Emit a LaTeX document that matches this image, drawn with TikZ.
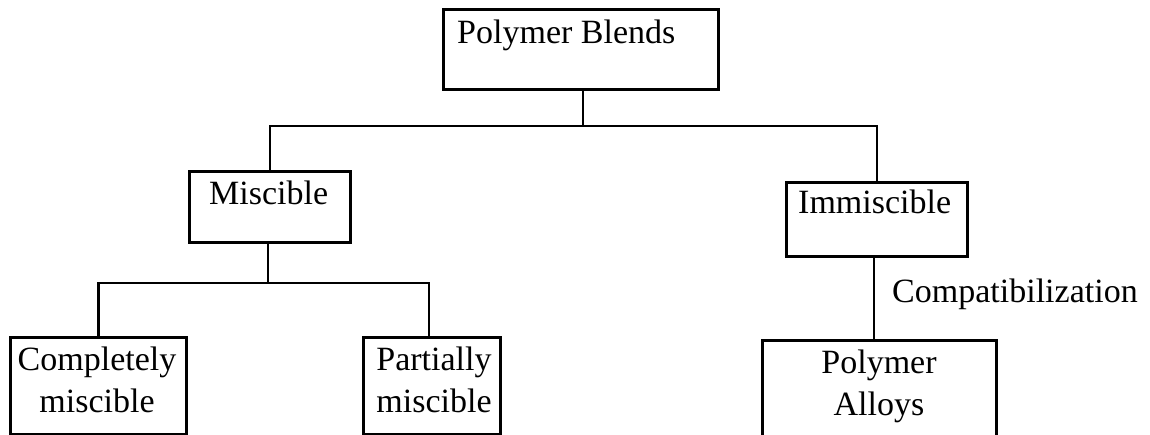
\documentclass[tikz,border=0pt]{standalone}
\usepackage{fontspec}
\setmainfont{Liberation Serif}
\begin{document}
\begin{tikzpicture}[x=1pt,y=-1pt,
  box/.style={draw,line width=2.7pt,inner sep=0pt,anchor=north west},
  txt/.style={inner sep=0pt,font=\fontsize{34}{42}\selectfont},
  conn/.style={line width=2.7pt}]
\useasboundingbox (0,0) rectangle (1150,434);
\clip (0,0) rectangle (1150,434);
% boxes
\node[box,minimum width=275pt,minimum height=80pt] (pb) at (442,8) {};
\node[box,minimum width=161pt,minimum height=71pt] (mis) at (188,170) {};
\node[box,minimum width=181pt,minimum height=74pt] (imm) at (785,181) {};
\node[box,minimum width=176pt,minimum height=97pt] (cm) at (9,336) {};
\node[box,minimum width=137pt,minimum height=97pt] (pm) at (362,336) {};
\node[box,minimum width=234pt,minimum height=110pt] (pa) at (761,339) {};
% texts
\node[txt,anchor=base west] (tpb) at (457,43) {Polymer Blends};
\node[txt,anchor=base west] (tmis) at (209,204) {Miscible};
\node[txt,anchor=base west] (timm) at (798,213) {Immiscible};
\node[txt,anchor=base,align=center] (tcm) at (97,412) {Completely\\miscible};
\node[txt,anchor=base,align=center] (tpm) at (434,412) {Partially\\miscible};
\node[txt,anchor=base,align=center] (tpa) at (879,415) {Polymer\\Alloys};
\node[txt,anchor=base west] (tcomp) at (892,302) {Compatibilization};
% junctions
\coordinate (j1) at (583,126);
\coordinate (j2) at (268,283);
% connectors
\draw[conn] (pb.south -| j1) -- (j1);
\draw[conn] (mis.north) |- (j1) -| (imm.north);
\draw[conn] (mis.south -| j2) -- (j2);
\draw[conn] (cm.north) |- (j2) -| ([xshift=-3pt]pm.north);
\draw[conn] ([xshift=-3pt]imm.south) -- ([xshift=-3pt]imm.south |- pa.north);
\end{tikzpicture}
\end{document}
